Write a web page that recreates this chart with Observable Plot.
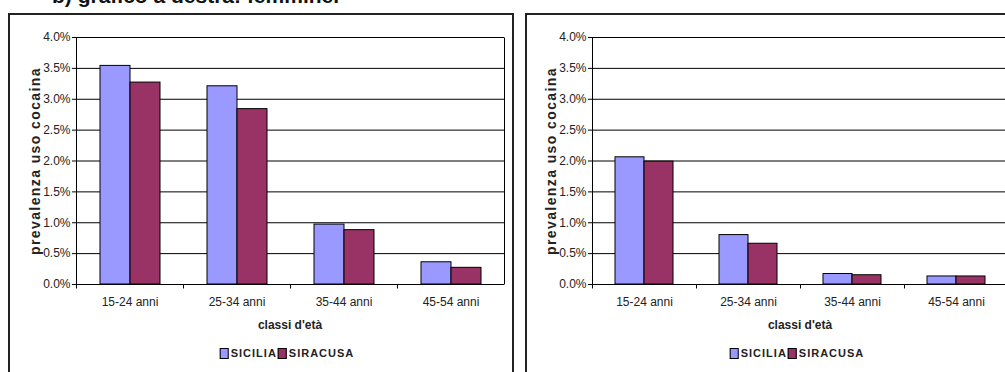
<!DOCTYPE html>
<html>
<head>
<meta charset="utf-8">
<script src="https://cdn.jsdelivr.net/npm/d3@7"></script>
<script src="https://cdn.jsdelivr.net/npm/@observablehq/plot@0.6"></script>
<style>
  html, body { margin: 0; padding: 0; background: #fff; }
  #root { position: relative; width: 1005px; height: 372px; overflow: hidden; background: #fff;
          font-family: "Liberation Sans", Arial, sans-serif; color: #222; }
  .panel { position: absolute; top: 13px; height: 400px; border: 2px solid #222; box-sizing: border-box; }
  .abs { position: absolute; white-space: nowrap; }
  .ctr { transform: translate(-50%, -50%); }
  .ylab { font-weight: bold; font-size: 14px; letter-spacing: 1.4px; transform: translate(-50%, -50%) rotate(-90deg); }
  .xlab { font-weight: bold; font-size: 12px; }
  .legend { font-weight: bold; font-size: 11px; letter-spacing: 1px; display: flex; align-items: center; }
  .sw { display: inline-block; width: 7px; height: 9px; border: 1px solid #000; margin-right: 2px; }
  .title { font-weight: bold; font-size: 21px; left: 52px; top: -16px; color: #111; }
  svg.chart { position: absolute; top: 0; }
</style>
</head>
<body>
<div id="root">
  <div class="abs title">b) grafico a destra: femmine.</div>
  <div class="panel" style="left:8px; width:506px;"></div>
  <div class="panel" style="left:525px; width:520px;"></div>
</div>
<script>
const categories = ["15-24 anni", "25-34 anni", "35-44 anni", "45-54 anni"];
const seriesNames = ["SICILIA", "SIRACUSA"];
const seriesColors = ["#9999ff", "#993366"];
const maschiSicilia = [0.0354, 0.0321, 0.0097, 0.0036];
const maschiSiracusa = [0.0327, 0.0284, 0.0088, 0.0027];
const femmineSicilia = [0.0206, 0.0080, 0.0017, 0.0013];
const femmineSiracusa = [0.0199, 0.0066, 0.0015, 0.0013];
const yTicks = [0, 0.005, 0.01, 0.015, 0.02, 0.025, 0.03, 0.035, 0.04];
const yTitle = "prevalenza uso cocaina";
const xTitle = "classi d'età";

const root = document.getElementById("root");

function rowsOf(a, b) {
  const rows = [];
  categories.forEach((c, i) => {
    rows.push({cat: c, series: seriesNames[0], value: a[i]});
    rows.push({cat: c, series: seriesNames[1], value: b[i]});
  });
  return rows;
}

function makeChart(a, b, left, width, marginLeft, marginRight) {
  const plot = Plot.plot({
    width, height: 372,
    marginLeft, marginRight, marginTop: 37, marginBottom: 88,
    style: {background: "transparent", fontFamily: "'Liberation Sans', Arial, sans-serif", fontSize: "12px", color: "#222", overflow: "visible"},
    fx: {domain: categories, padding: 0, label: null},
    x: {domain: seriesNames, paddingInner: 0, paddingOuter: 0.75, axis: null},
    y: {domain: [0, 0.04], label: null},
    color: {domain: seriesNames, range: seriesColors},
    marks: [
      Plot.ruleY(yTicks, {stroke: "#000", strokeWidth: 1}),
      Plot.barY(rowsOf(a, b), {fx: "cat", x: "series", y: "value", fill: "series", stroke: "#000", strokeWidth: 1}),
      Plot.axisY({ticks: yTicks, tickFormat: d3.format(".1%"), tickSize: 4, tickPadding: 2, label: null, stroke: "#000"}),
      Plot.axisFx({anchor: "bottom", tickSize: 0, tickPadding: 13, label: null})
    ]
  });
  plot.classList.add("chart");
  plot.style.left = left + "px";
  const fx = plot.scale("fx");
  const y = plot.scale("y");
  const top = Math.min(...y.range), bottom = Math.max(...y.range);
  const edges = categories.map(c => fx.apply(c));
  const lastEdge = fx.apply(categories[categories.length - 1]) + fx.bandwidth;
  const svg = d3.select(plot);
  const g = svg.append("g").attr("stroke", "#000").attr("stroke-width", 1);
  const px = v => Math.round(v) + 0.5;
  [edges[0], lastEdge].forEach(x => {
    g.append("line").attr("x1", px(x)).attr("x2", px(x)).attr("y1", top + 0.5).attr("y2", bottom + 0.5);
  });
  edges.forEach(x => {
    g.append("line").attr("x1", px(x)).attr("x2", px(x)).attr("y1", bottom + 0.5).attr("y2", bottom + 4.5);
  });
  root.appendChild(plot);
  const cx = left + (edges[0] + lastEdge) / 2;
  const cy = (top + bottom) / 2;
  const yl = document.createElement("div");
  yl.className = "abs ylab";
  yl.style.left = (left + edges[0] - 41) + "px";
  yl.style.top = cy + "px";
  yl.textContent = yTitle;
  root.appendChild(yl);
  const xl = document.createElement("div");
  xl.className = "abs ctr xlab";
  xl.style.left = cx + "px";
  xl.style.top = "325px";
  xl.textContent = xTitle;
  root.appendChild(xl);
  const lg = document.createElement("div");
  lg.className = "abs ctr legend";
  lg.style.left = (cx - 3) + "px";
  lg.style.top = "353px";
  seriesNames.forEach((s, i) => {
    const sw = document.createElement("span");
    sw.className = "sw";
    sw.style.background = seriesColors[i];
    lg.appendChild(sw);
    const t = document.createElement("span");
    t.textContent = s;
    t.style.marginRight = i === 0 ? "1px" : "0";
    lg.appendChild(t);
  });
  root.appendChild(lg);
}

makeChart(maschiSicilia, maschiSiracusa, 0, 512, 76, 8);
makeChart(femmineSicilia, femmineSiracusa, 525, 500, 67, 17);
</script>
</body>
</html>
